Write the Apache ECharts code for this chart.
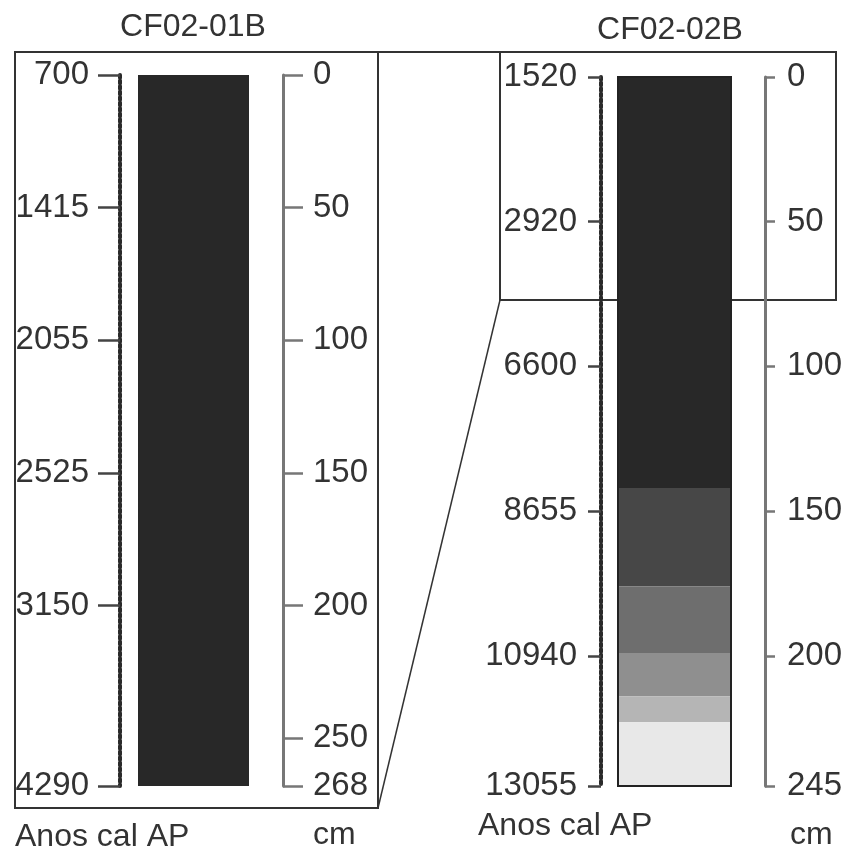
<!DOCTYPE html>
<html>
<head>
<meta charset="utf-8">
<script src="https://cdn.jsdelivr.net/npm/echarts@6/dist/echarts.min.js"></script>
<style>
html,body{margin:0;padding:0;background:#fff;}
#chart{width:846px;height:852px;}
</style>
</head>
<body>
<div id="chart"></div>
<script>
// ---- data ----
const coreNames = ['CF02-01B', 'CF02-02B'];

// Core CF02-01B
const core1Depths = [0, 50, 100, 150, 200, 250, 268];          // depth ticks (cm)
const core1AgeDepths = [0, 50, 100, 150, 200, 268];            // depths of dated levels
const core1Ages = [700, 1415, 2055, 2525, 3150, 4290];         // cal yr BP
const core1LayerTops = [0];
const core1LayerBottoms = [268];
const core1LayerColors = ['#282828'];

// Core CF02-02B
const core2Depths = [0, 50, 100, 150, 200, 245];
const core2AgeDepths = [0, 50, 100, 150, 200, 245];
const core2Ages = [1520, 2920, 6600, 8655, 10940, 13055];
const core2LayerTops = [0, 142, 176, 199, 214, 223];
const core2LayerBottoms = [142, 176, 199, 214, 223, 245];
const core2LayerColors = ['#282828', '#474747', '#6e6e6e', '#8f8f8f', '#b5b5b5', '#e8e8e8'];

const axisTitleAge = 'Anos cal AP';
const axisTitleDepth = 'cm';

// ---- chart ----
const FONT = "'Liberation Sans', Arial, sans-serif";
const TXT = '#333';
const chart = echarts.init(document.getElementById('chart'));

function layerData(tops, bottoms, colors) {
  return tops.map((t, i) => ({ value: [0, 1, t, bottoms[i]], itemStyle: { color: colors[i] } }));
}

function renderLayer(params, api) {
  const p0 = api.coord([api.value(0), api.value(2)]);
  const p1 = api.coord([api.value(1), api.value(3)]);
  return {
    type: 'rect',
    shape: { x: p0[0], y: p0[1], width: p1[0] - p0[0], height: p1[1] - p0[1] },
    style: { fill: api.visual('color') }
  };
}
function renderOutline(params, api) {
  const p0 = api.coord([api.value(0), api.value(2)]);
  const p1 = api.coord([api.value(1), api.value(3)]);
  return {
    type: 'rect',
    shape: { x: p0[0], y: p0[1], width: p1[0] - p0[0], height: p1[1] - p0[1] },
    style: { fill: 'none', stroke: '#222', lineWidth: 2 }
  };
}

function ageAxis(gridIndex, maxD, ageDepths, ages, offset, tickLen, margin) {
  const map = {};
  ageDepths.forEach((d, i) => { map[d] = ages[i]; });
  return {
    type: 'value', gridIndex, position: 'left', offset, inverse: true, min: 0, max: maxD,
    axisLine: { show: true, onZero: false, lineStyle: { color: '#2a2a2a', width: 4, type: [3, 2.5] } },
    axisTick: { show: true, length: tickLen, customValues: ageDepths, lineStyle: { color: '#444', width: 2.5 } },
    axisLabel: { customValues: ageDepths, formatter: v => String(map[v] !== undefined ? map[v] : ''),
      fontSize: 33, fontFamily: FONT, color: TXT, margin },
    splitLine: { show: false }
  };
}
function depthAxis(gridIndex, maxD, depths, offset, tickLen, margin) {
  return {
    type: 'value', gridIndex, position: 'right', offset, inverse: true, min: 0, max: maxD,
    axisLine: { show: true, onZero: false, lineStyle: { color: '#777', width: 3 } },
    axisTick: { show: true, length: tickLen, customValues: depths, lineStyle: { color: '#777', width: 2.5 } },
    axisLabel: { customValues: depths, fontSize: 33, fontFamily: FONT, color: TXT, margin },
    splitLine: { show: false }
  };
}

const max1 = core1Depths[core1Depths.length - 1];
const max2 = core2Depths[core2Depths.length - 1];

const textStyle = (t, x, y, align) => ({
  type: 'text', x, y, z: 10,
  style: { text: t, fontSize: 32, fontFamily: FONT, fill: TXT, textAlign: align, textVerticalAlign: 'middle' }
});

const option = {
  backgroundColor: '#fff',
  animation: false,
  grid: [
    { left: 138, top: 75, width: 111, height: 711 },
    { left: 618, top: 77, width: 113, height: 709 }
  ],
  xAxis: [
    { type: 'value', gridIndex: 0, min: 0, max: 1, show: false },
    { type: 'value', gridIndex: 1, min: 0, max: 1, show: false }
  ],
  yAxis: [
    ageAxis(0, max1, core1AgeDepths, core1Ages, 18, 22, 31),
    depthAxis(0, max1, core1Depths, 34, 20, 30),
    ageAxis(1, max2, core2AgeDepths, core2Ages, 17, 13, 24),
    depthAxis(1, max2, core2Depths, 34, 10, 22)
  ],
  series: [
    { type: 'custom', xAxisIndex: 0, yAxisIndex: 0, renderItem: renderLayer,
      data: layerData(core1LayerTops, core1LayerBottoms, core1LayerColors), z: 3 },
    { type: 'custom', xAxisIndex: 1, yAxisIndex: 2, renderItem: renderLayer,
      data: layerData(core2LayerTops, core2LayerBottoms, core2LayerColors), z: 3 },
    { type: 'custom', xAxisIndex: 1, yAxisIndex: 2, renderItem: renderOutline,
      data: [[0, 1, core2LayerTops[0], core2LayerBottoms[core2LayerBottoms.length - 1]]], z: 4 }
  ],
  graphic: [
    { type: 'rect', z: 0, shape: { x: 15, y: 52, width: 363, height: 756 },
      style: { fill: 'none', stroke: '#333', lineWidth: 2 } },
    { type: 'line', z: 0, shape: { x1: 378, y1: 52, x2: 500, y2: 52 },
      style: { stroke: '#333', lineWidth: 2 } },
    { type: 'rect', z: 0, shape: { x: 500, y: 52, width: 336, height: 248 },
      style: { fill: 'none', stroke: '#333', lineWidth: 2 } },
    { type: 'line', z: 0, shape: { x1: 378, y1: 808, x2: 500, y2: 300 },
      style: { stroke: '#333', lineWidth: 1.5 } },
    textStyle(coreNames[0], 193, 27, 'center'),
    textStyle(coreNames[1], 670, 30, 'center'),
    textStyle(axisTitleAge, 15, 837, 'left'),
    textStyle(axisTitleDepth, 313, 835, 'left'),
    textStyle(axisTitleAge, 478, 826, 'left'),
    textStyle(axisTitleDepth, 790, 835, 'left')
  ]
};
chart.setOption(option);
</script>
</body>
</html>
